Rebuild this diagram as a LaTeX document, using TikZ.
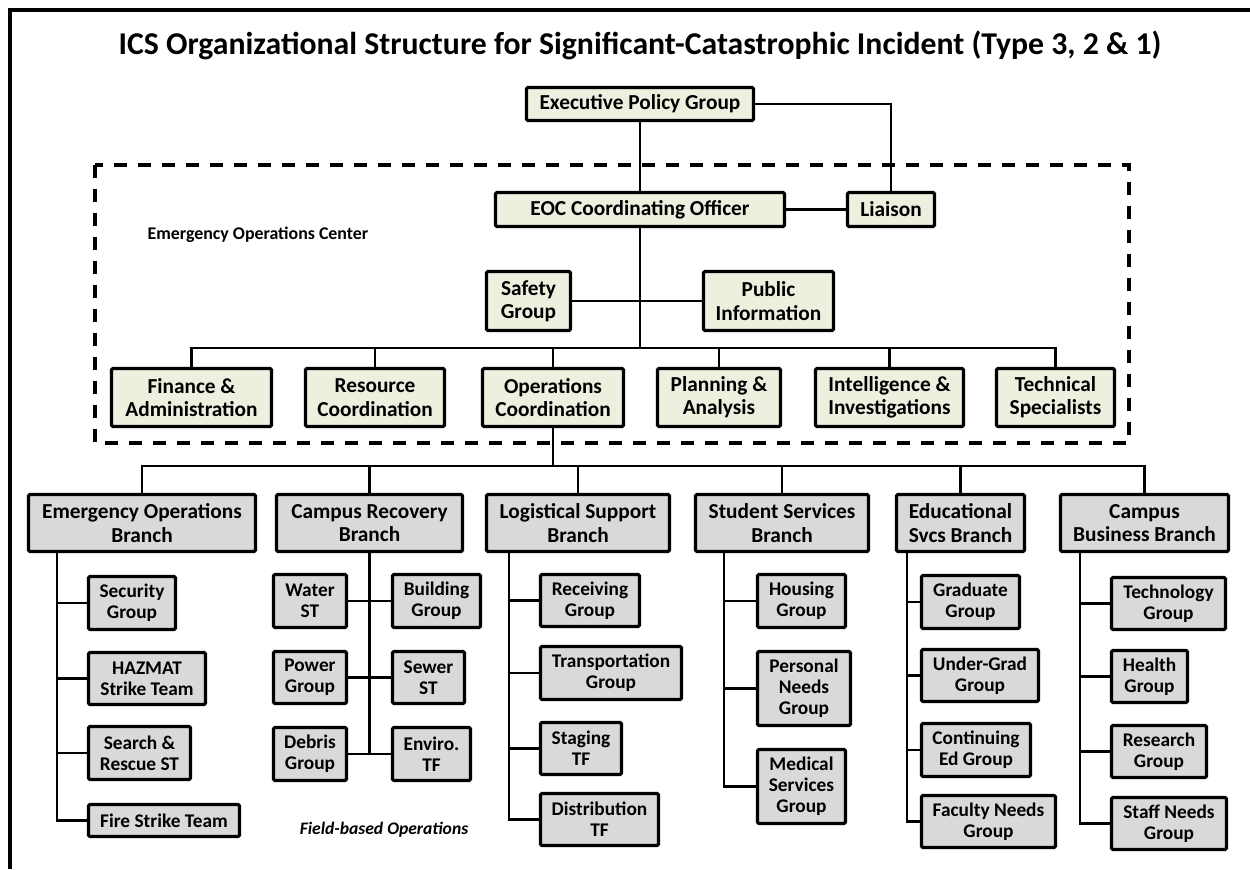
\documentclass[tikz,border=0pt]{standalone}
\usepackage{fontspec}
\setmainfont{Carlito}
\definecolor{eocfill}{HTML}{EBF1DE}
\definecolor{brfill}{HTML}{D9D9D9}
\tikzset{
  frame/.style={line width=2.5pt},
  conn/.style={line width=2.2pt},
  basebox/.style={draw, line width=2.4pt, rounded corners=1pt, inner sep=0pt,
                  align=center, font=\bfseries\fontsize{16}{17.5}\selectfont},
  gbox/.style={basebox, fill=eocfill},
  bbox/.style={basebox, fill=brfill},
  sbox/.style={basebox, fill=brfill, font=\bfseries\fontsize{14.5}{15.8}\selectfont},
  eocframe/.style={line width=2.3pt, dash pattern=on 10pt off 8pt},
}
% box given by its outer corners (x1,y1) (x2,y2) in drawing units
\newcommand{\bx}[7]{%
  \pgfmathsetmacro\bxw{(#5-#3-3)*0.75}%
  \pgfmathsetmacro\bxh{(#6-#4-3)*0.75}%
  \node[#1, minimum width=\bxw pt, minimum height=\bxh pt] (#2)
    at ({(#3+#5)/2},{(#4+#6)/2}) {#7};}
\begin{document}
\begin{tikzpicture}[x=0.75pt,y=-0.75pt]
\useasboundingbox (0,0) rectangle (1250,869);
% page frame
\draw[frame] (10,869) -- (10,10) -- (1250,10);
% title
\node[font=\bfseries\fontsize{23.8}{26}\selectfont] (title) at (640,45)
  {ICS Organizational Structure for Significant-Catastrophic Incident (Type 3, 2 \& 1)};
% emergency operations center outline
\draw[eocframe] (95,165) rectangle (1129,443);
\node[font=\bfseries\fontsize{13.4}{15}\selectfont] (eoclabel) at (258,235) {Emergency Operations Center};

% command level
\bx{gbox}{epg}{525}{86}{755}{122}{Executive Policy Group}
\bx{gbox}{eoc}{494}{191}{786}{228}{EOC Coordinating Officer}
\bx{gbox}{liaison}{846}{191}{936}{228}{Liaison}
\bx{gbox}{safety}{485}{270}{572}{332}{Safety\\Group}
\bx{gbox}{public}{702}{270}{835}{332}{Public\\Information}

% EOC sections
\bx{gbox}{fin}{110}{367}{273}{428}{Finance \&\\Administration}
\bx{gbox}{res}{304}{367}{446}{428}{Resource\\Coordination}
\bx{gbox}{ops}{481}{367}{625}{428}{Operations\\Coordination}
\bx{gbox}{plan}{656}{367}{782}{428}{Planning \&\\Analysis}
\bx{gbox}{intel}{814}{367}{965}{428}{Intelligence \&\\Investigations}
\bx{gbox}{tech}{995}{367}{1116}{428}{Technical\\Specialists}

% branches
\bx{bbox}{eob}{27}{493}{257}{553}{Emergency Operations\\Branch}
\bx{bbox}{crb}{275}{493}{464}{553}{Campus Recovery\\Branch}
\bx{bbox}{lsb}{485}{493}{671}{553}{Logistical Support\\Branch}
\bx{bbox}{ssb}{694}{493}{870}{553}{Student Services\\Branch}
\bx{bbox}{esb}{895}{493}{1026}{553}{Educational\\Svcs Branch}
\bx{bbox}{cbb}{1059}{493}{1230}{553}{Campus\\Business Branch}

% emergency operations branch units
\bx{sbox}{sec}{87}{575}{177}{631}{Security\\Group}
\bx{sbox}{hazmat}{87}{651}{207}{706}{HAZMAT\\Strike Team}
\bx{sbox}{sar}{87}{725}{192}{781}{Search \&\\Rescue ST}
\bx{sbox}{fire}{87}{803}{241}{838}{Fire Strike Team}

% campus recovery branch units
\bx{sbox}{water}{272}{573}{348}{629}{Water\\ST}
\bx{sbox}{building}{391}{573}{482}{629}{Building\\Group}
\bx{sbox}{power}{272}{650}{348}{705}{Power\\Group}
\bx{sbox}{sewer}{391}{650}{466}{705}{Sewer\\ST}
\bx{sbox}{debris}{272}{726}{348}{782}{Debris\\Group}
\bx{sbox}{enviro}{391}{726}{472}{782}{Enviro.\\TF}

% logistical support branch units
\bx{sbox}{recv}{539}{573}{641}{628}{Receiving\\Group}
\bx{sbox}{transp}{539}{645}{683}{701}{Transportation\\Group}
\bx{sbox}{staging}{539}{721}{623}{776}{Staging\\TF}
\bx{sbox}{distr}{539}{792}{660}{847}{Distribution\\TF}

% student services branch units
\bx{sbox}{housing}{756}{573}{847}{629}{Housing\\Group}
\bx{sbox}{personal}{756}{650}{852}{727}{Personal\\Needs\\Group}
\bx{sbox}{medical}{756}{748}{847}{825}{Medical\\Services\\Group}

% educational services branch units
\bx{sbox}{grad}{920}{574}{1021}{630}{Graduate\\Group}
\bx{sbox}{ugrad}{920}{648}{1040}{703}{Under-Grad\\Group}
\bx{sbox}{conted}{920}{722}{1032}{778}{Continuing\\Ed Group}
\bx{sbox}{faculty}{920}{794}{1057}{849}{Faculty Needs\\Group}

% campus business branch units
\bx{sbox}{techg}{1110}{576}{1227}{631}{Technology\\Group}
\bx{sbox}{health}{1110}{649}{1189}{704}{Health\\Group}
\bx{sbox}{research}{1110}{724}{1208}{779}{Research\\Group}
\bx{sbox}{staff}{1110}{796}{1228}{851}{Staff Needs\\Group}

\node[font=\bfseries\itshape\fontsize{13.2}{15}\selectfont] (field) at (384,830) {Field-based Operations};

% ---- connectors ----
\coordinate (bar1) at (640,348);
\coordinate (bar2) at (553,466);
\draw[conn] (epg.south) -- (eoc.north);
\draw[conn] (epg.east) -| (liaison.north);
\draw[conn] (eoc.east) -- (liaison.west);
\draw[conn] (eoc.south) -- (bar1);
\draw[conn] (safety.east) -- (public.west);
\draw[conn] (fin.north) |- (bar1) -| (tech.north);
\foreach \n in {res,ops,plan,intel}
  \draw[conn] (\n.north) -- (\n.north |- bar1);
\draw[conn] (ops.south) -- (bar2);
\draw[conn] (eob.north) |- (bar2) -| (cbb.north);
\foreach \n in {crb,lsb,ssb,esb}
  \draw[conn] (\n.north) -- (\n.north |- bar2);

% branch trunks
\coordinate (t1) at (57,553);
\draw[conn] (t1) |- (fire.west);
\foreach \n in {sec,hazmat,sar}
  \draw[conn] (\n.west) -- (\n.west -| t1);

\draw[conn] (crb.south) -- (crb.south |- debris.east);
\draw[conn] (water.east) -- (water.east -| building.west);
\draw[conn] (power.east) -- (power.east -| sewer.west);
\draw[conn] (debris.east) -- (debris.east -| enviro.west);

\coordinate (t3) at (509,553);
\draw[conn] (t3) |- (distr.west);
\foreach \n in {recv,transp,staging}
  \draw[conn] (\n.west) -- (\n.west -| t3);

\coordinate (t4) at (724,553);
\draw[conn] (t4) |- (medical.west);
\foreach \n in {housing,personal}
  \draw[conn] (\n.west) -- (\n.west -| t4);

\coordinate (t5) at (907,553);
\draw[conn] (t5) |- (faculty.west);
\foreach \n in {grad,ugrad,conted}
  \draw[conn] (\n.west) -- (\n.west -| t5);

\coordinate (t6) at (1080,553);
\draw[conn] (t6) |- (staff.west);
\foreach \n in {techg,health,research}
  \draw[conn] (\n.west) -- (\n.west -| t6);
\end{tikzpicture}
\end{document}
